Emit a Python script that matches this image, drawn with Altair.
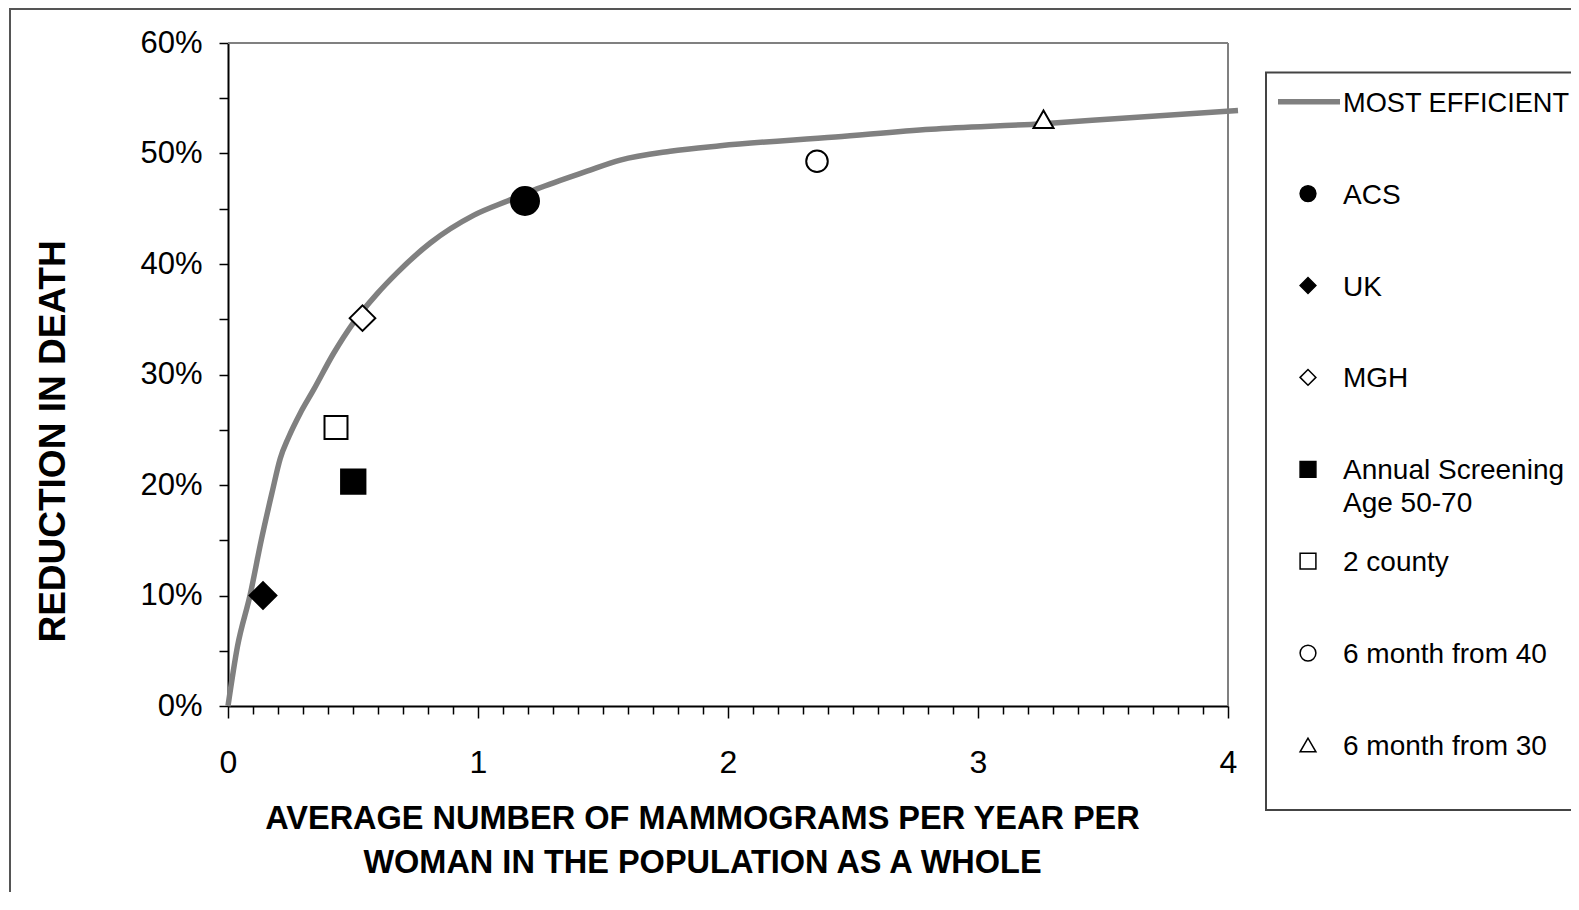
import altair as alt
import pandas as pd

# ---- data ----
curve_x = [0, 0.038, 0.089, 0.133, 0.176, 0.209, 0.242, 0.289, 0.342, 0.422, 0.502,
           0.596, 0.676, 0.809, 0.982, 1.129, 1.236, 1.436, 1.569, 1.769, 1.969,
           2.429, 2.812, 3.261, 3.577, 4.04]
curve_y = [0, 5.4, 10.1, 15.0, 19.3, 22.4, 24.3, 26.5, 28.6, 31.9, 34.7,
           37.3, 39.2, 41.9, 44.4, 45.8, 46.8, 48.4, 49.4, 50.2, 50.7,
           51.5, 52.2, 52.7, 53.2, 53.9]

line_name = "MOST EFFICIENT"
point_names = ["ACS", "UK", "MGH", "Annual Screening\nAge 50-70", "2 county",
               "6 month from 40", "6 month from 30"]
point_x = [1.188, 0.14, 0.538, 0.501, 0.432, 2.356, 3.262]
point_y = [45.7, 10.0, 35.1, 20.3, 25.2, 49.3, 53.1]

x_ticks = [0, 0.1, 0.2, 0.3, 0.4, 0.5, 0.6, 0.7, 0.8, 0.9, 1, 1.1, 1.2, 1.3, 1.4,
           1.5, 1.6, 1.7, 1.8, 1.9, 2, 2.1, 2.2, 2.3, 2.4, 2.5, 2.6, 2.7, 2.8, 2.9,
           3, 3.1, 3.2, 3.3, 3.4, 3.5, 3.6, 3.7, 3.8, 3.9, 4]
y_ticks = [0, 5, 10, 15, 20, 25, 30, 35, 40, 45, 50, 55, 60]

# ---- styles ----
shapes = ["circle", "diamond", "diamond", "square", "square", "circle", "triangle-up"]
fills = ["black", "black", "white", "black", "white", "white", "white"]
sizes = [784, 400, 784, 400, 784, 676, 600]
FONT = "Liberation Sans"
GRAY = "#808080"

curve_df = pd.DataFrame({"x": curve_x, "y": curve_y})
pts_df = pd.DataFrame({"x": point_x, "y": point_y, "name": point_names})
leg_df = pd.DataFrame({"name": point_names, "row": list(range(1, len(point_names) + 1))})
leg_line_df = pd.DataFrame({"name": [line_name], "row": [0]})
one = pd.DataFrame({"k": [0]})

W, H = 1000, 663

is_int_x = "abs(datum.value - round(datum.value)) < 0.001"
x_axis = alt.Axis(
    values=x_ticks,
    labelExpr=f"{is_int_x} ? format(datum.value, 'd') : ''",
    tickSize={"condition": {"test": is_int_x, "value": 12}, "value": 8},
    labelFont=FONT, labelFontSize=32, labelColor="black", labelPadding=29,
    labelFlush=False, labelOverlap=False,
    title=["AVERAGE NUMBER OF MAMMOGRAMS PER YEAR PER",
           "WOMAN IN THE POPULATION AS A WHOLE"],
    titleFont=FONT, titleFontSize=32.5, titleFontWeight="bold", titleColor="black",
    titleLineHeight=44, titleX=474, titleY=112, titleAlign="center",
    titleBaseline="middle", titleAnchor="start",
    grid=False, domainColor="black", domainWidth=2, tickColor="black", tickWidth=1.5,
)
y_axis = alt.Axis(
    values=y_ticks,
    labelExpr="datum.value % 10 === 0 ? datum.value + '%' : ''",
    tickSize=9, labelPadding=17,
    labelFont=FONT, labelFontSize=31, labelColor="black", labelOverlap=False,
    labelFlush=False,
    title="REDUCTION IN DEATH", titleFont=FONT, titleFontSize=37,
    titleFontWeight="bold", titleColor="black", titleAngle=270,
    titleX=-175, titleY=398, titleAlign="center", titleBaseline="middle",
    grid=False, domainColor="black", domainWidth=2, tickColor="black", tickWidth=1.5,
)

xs = alt.Scale(domain=[0, 4], nice=False)
ys = alt.Scale(domain=[0, 60], nice=False)

frame = alt.Chart(one).mark_rect(fill="white", fillOpacity=0, stroke="#555555",
                                 strokeWidth=2, clip=False).encode(
    x=alt.value(-218), x2=alt.value(1400), y=alt.value(-34), y2=alt.value(900))

top_edge = alt.Chart(one).mark_rule(color=GRAY, strokeWidth=2).encode(
    x=alt.value(0), x2=alt.value(W), y=alt.value(0))
right_edge = alt.Chart(one).mark_rule(color=GRAY, strokeWidth=2).encode(
    x=alt.value(W), y=alt.value(0), y2=alt.value(H))

curve = alt.Chart(curve_df).mark_line(color=GRAY, strokeWidth=5.5, interpolate="monotone",
                                      clip=False).encode(
    x=alt.X("x:Q", scale=xs, axis=x_axis),
    y=alt.Y("y:Q", scale=ys, axis=y_axis),
)

shape_scale = alt.Scale(domain=point_names, range=shapes)
fill_scale = alt.Scale(domain=point_names, range=fills)
size_scale = alt.Scale(domain=point_names, range=sizes)

points = alt.Chart(pts_df).mark_point(filled=True, stroke="black", strokeWidth=2,
                                      opacity=1, fillOpacity=1).encode(
    x=alt.X("x:Q", scale=xs, axis=x_axis),
    y=alt.Y("y:Q", scale=ys, axis=y_axis),
    shape=alt.Shape("name:N", scale=shape_scale, legend=None),
    fill=alt.Fill("name:N", scale=fill_scale, legend=None),
    size=alt.Size("name:N", scale=size_scale, legend=None),
)

main = alt.layer(frame, top_edge, right_edge, curve, points)

row_scale = alt.Scale(domain=[0, 7], range=[58.7, 702])

leg_box = alt.Chart(one).mark_rect(fill="white", stroke="#444444", strokeWidth=2,
                                   clip=False).encode(
    x=alt.value(1038), x2=alt.value(1400), y=alt.value(29.5), y2=alt.value(767))

leg_line = alt.Chart(leg_line_df).mark_rule(color=GRAY, strokeWidth=5.5, clip=False).encode(
    x=alt.value(1050), x2=alt.value(1112),
    y=alt.Y("row:Q", scale=row_scale, axis=None))

leg_line_text = alt.Chart(leg_line_df).mark_text(
    align="left", baseline="middle", dy=2, font=FONT, fontSize=27.2, color="black",
    clip=False).encode(
    x=alt.value(1115), y=alt.Y("row:Q", scale=row_scale, axis=None), text="name:N")

leg_syms = alt.Chart(leg_df).mark_point(filled=True, stroke="black", strokeWidth=1.5,
                                        opacity=1, fillOpacity=1, size=250,
                                        clip=False).encode(
    x=alt.value(1080),
    y=alt.Y("row:Q", scale=row_scale, axis=None),
    shape=alt.Shape("name:N", scale=shape_scale, legend=None),
    fill=alt.Fill("name:N", scale=fill_scale, legend=None),
)

leg_text = alt.Chart(leg_df).mark_text(
    align="left", baseline="middle", dy=2, font=FONT, fontSize=28, color="black",
    lineBreak="\n", lineHeight=33, clip=False).encode(
    x=alt.value(1115), y=alt.Y("row:Q", scale=row_scale, axis=None), text="name:N")

legend = alt.layer(leg_box, leg_line, leg_line_text, leg_syms, leg_text)

chart = alt.layer(main, legend).resolve_scale(y="independent", x="independent").properties(
    width=W, height=H,
    padding={"left": 220, "top": 35, "right": 343, "bottom": 186},
    autosize=alt.AutoSizeParams(type="none"),
).configure_view(stroke=GRAY, strokeWidth=2).configure(background="white")

chart.save("out.html", embed_options={"renderer": "svg", "actions": False})
